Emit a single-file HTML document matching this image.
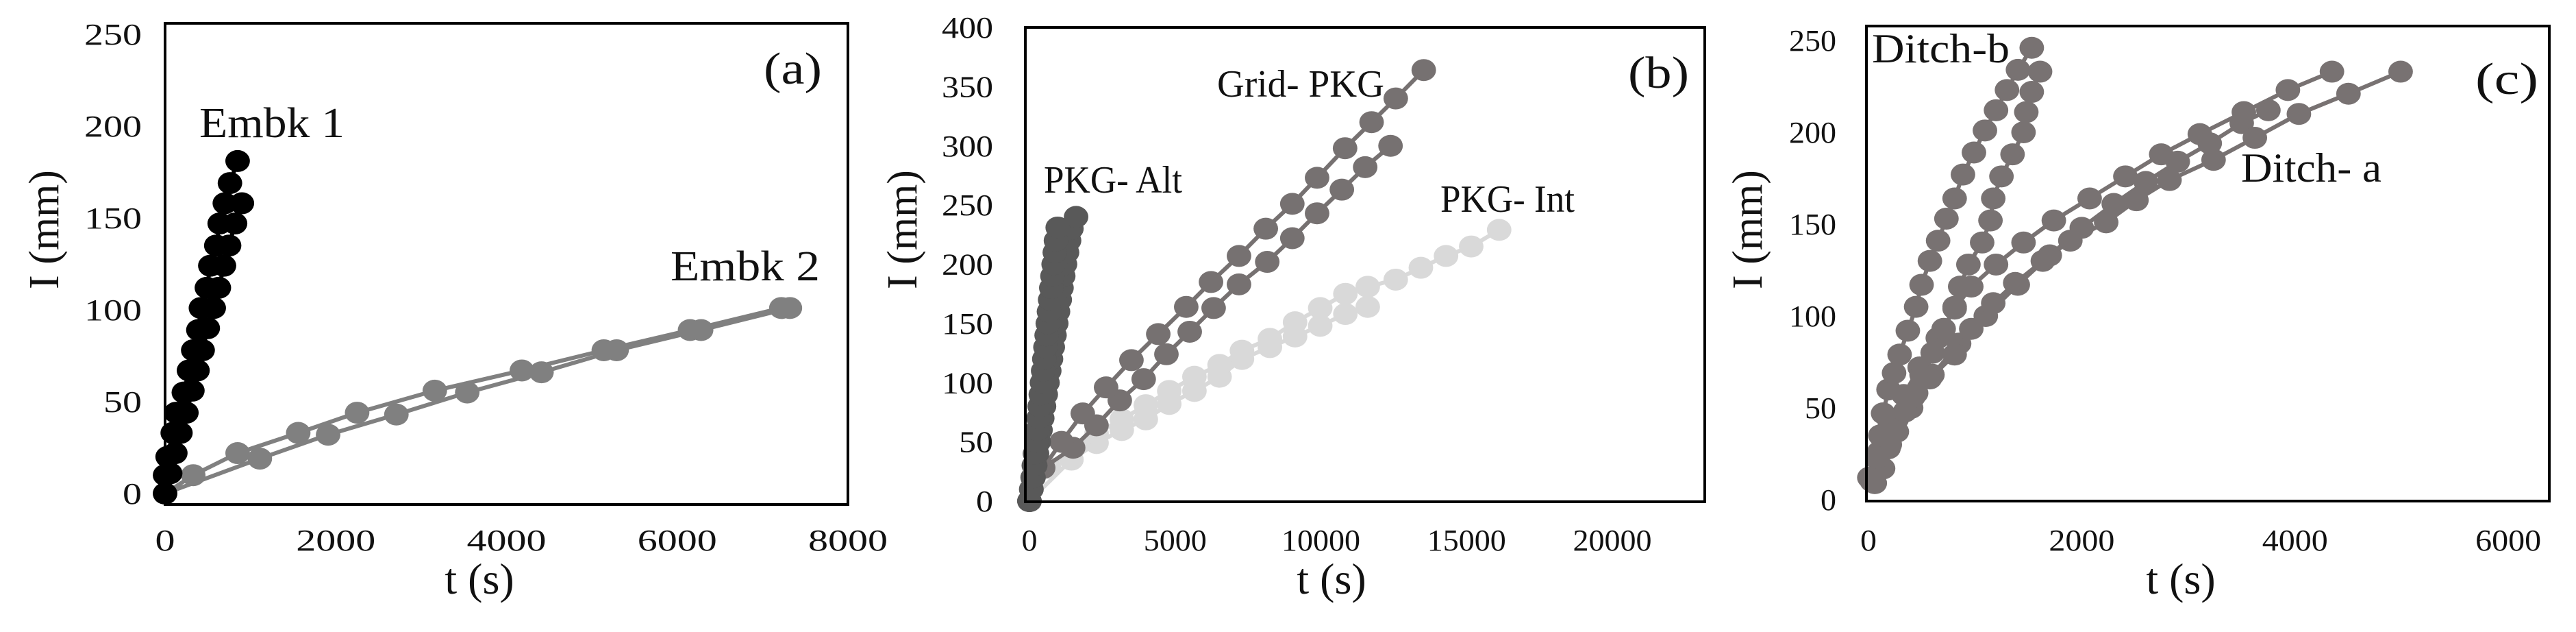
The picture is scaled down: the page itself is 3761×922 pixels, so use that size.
<!DOCTYPE html>
<html><head><meta charset="utf-8">
<style>
html,body{margin:0;padding:0;background:#fff;}
svg{display:block;}
text{font-family:"Liberation Serif",serif;fill:#111;}
</style></head>
<body>
<svg id="fig" width="3761" height="922" viewBox="0 0 3761 922" xmlns="http://www.w3.org/2000/svg"></svg>
<script>
// ---------- Panel (a) data ----------
const aTicksX = [0, 2000, 4000, 6000, 8000];
const aTicksY = [0, 50, 100, 150, 200, 250];
const embk1A_t = [0, 30, 90, 130, 220, 280, 330, 390, 420, 490, 530, 600, 640, 700, 760, 850];
const embk1A_y = [10, 20, 33, 44, 55, 67, 78, 89, 101, 112, 124, 135, 147, 158, 169, 181];
const embk1B_t = [0, 60, 120, 180, 250, 320, 380, 440, 500, 570, 630, 690, 750, 820, 900];
const embk1B_y = [0, 11, 22, 33, 44, 56, 67, 78, 90, 101, 112, 124, 135, 147, 158];
const embk2A_t = [0, 330, 850, 1560, 2250, 3160, 4180, 5140, 6150, 7220];
const embk2A_y = [0, 10, 22, 33, 44, 56, 67, 78, 89, 101];
const embk2B_t = [0, 1110, 1910, 2710, 3540, 4410, 5290, 6280, 7320];
const embk2B_y = [0, 19, 32, 43, 55, 66, 78, 89, 101];

// ---------- Panel (b) data ----------
const bTicksX = [0, 5000, 10000, 15000, 20000];
const bTicksY = [0, 50, 100, 150, 200, 250, 300, 350, 400];
const gridA_t = [0, 470, 1100, 1830, 2630, 3500, 4420, 5380, 6230, 7190, 8110, 9020, 9870, 10830, 11740, 12570, 13530];
const gridA_y = [0, 28, 50, 74, 96, 119, 141, 164, 185, 207, 230, 251, 273, 298, 320, 340, 364];
const gridB_t = [0, 470, 1500, 2300, 3100, 3920, 4700, 5500, 6320, 7190, 8160, 9020, 9870, 10720, 11520, 12390];
const gridB_y = [0, 28, 45, 64, 85, 103, 124, 143, 163, 183, 202, 222, 243, 263, 282, 300];
const intA_t = [0, 672, 1441, 2303, 3168, 3993, 4797, 5661, 6524, 7292, 8251, 9114, 9978, 10841, 11608, 12569, 13431, 14294, 15158, 16117];
const intA_y = [0, 28, 45, 57, 69, 81, 93, 105, 115, 127, 137, 151, 163, 175, 181, 187, 197, 207, 215, 229];
const intB_t = [0, 1441, 2303, 3168, 3993, 4797, 5661, 6524, 7292, 8251, 9114, 9978, 10841, 11608];
const intB_y = [0, 35, 49, 60, 69, 82, 93, 105, 120, 130, 139, 148, 158, 164];
const altA_t = [0, 60, 110, 150, 190, 230, 270, 310, 350, 390, 430, 470, 510, 550, 590, 630, 670, 710, 750, 790, 830, 870, 910, 970];
const altA_y = [0, 10, 20, 30, 40, 50, 60, 70, 80, 90, 100, 110, 120, 130, 140, 150, 160, 170, 180, 190, 200, 210, 220, 231];
const altB_t = [0, 70, 140, 200, 260, 320, 380, 440, 500, 560, 620, 680, 740, 800, 860, 920, 980, 1040, 1100, 1160, 1220, 1290, 1360, 1440, 1600];
const altB_y = [0, 10, 20, 30, 40, 50, 60, 70, 80, 90, 100, 110, 120, 130, 140, 150, 160, 170, 180, 190, 200, 210, 220, 230, 240];

// ---------- Panel (c) data ----------
const cTicksX = [0, 2000, 4000, 6000];
const cTicksY = [0, 50, 100, 150, 200, 250];
const ditchB1_t = [8, 85, 111, 137, 188, 240, 292, 369, 447, 498, 576, 653, 731, 808, 886, 989, 1092, 1196, 1299, 1402, 1531];
const ditchB1_y = [12, 23, 35, 47, 60, 69, 79, 92, 105, 117, 130, 141, 153, 164, 177, 189, 201, 212, 223, 234, 246];
const ditchB2_t = [59, 137, 188, 266, 344, 447, 498, 602, 705, 808, 860, 937, 1066, 1144, 1170, 1247, 1351, 1454, 1480, 1531, 1609];
const ditchB2_y = [9, 17, 28, 37, 48, 58, 68, 80, 93, 105, 116, 128, 140, 152, 164, 176, 188, 200, 211, 222, 233];
const ditchA1_t = [30, 100, 200, 330, 480, 650, 808, 964, 1196, 1454, 1738, 2074, 2409, 2745, 3107, 3520, 3933, 4346];
const ditchA1_y = [12, 26, 42, 57, 72, 88, 104, 116, 128, 140, 152, 164, 176, 188, 199, 211, 223, 233];
const ditchA2_t = [33, 85, 162, 266, 421, 576, 808, 964, 1170, 1376, 1635, 1893, 2229, 2513, 2823, 3236, 3623, 4036, 4501, 4990];
const ditchA2_y = [10, 22, 33, 44, 56, 66, 79, 93, 107, 118, 130, 141, 151, 163, 174, 185, 197, 210, 221, 233];
const ditchA3_t = [30, 200, 400, 600, 850, 1100, 1400, 1700, 2000, 2300, 2600, 2900, 3200, 3500, 3750];
const ditchA3_y = [12, 30, 50, 68, 85, 100, 117, 133, 148, 161, 173, 184, 194, 205, 212];

const NS = "http://www.w3.org/2000/svg";
const svg = document.getElementById('fig');
function mk(tag, attrs, parent) {
  const e = document.createElementNS(NS, tag);
  for (const k in attrs) e.setAttribute(k, attrs[k]);
  (parent || svg).appendChild(e);
  return e;
}
function txt(str, attrs, parent) { const t = mk('text', attrs, parent); t.textContent = str; return t; }

function panel(cfg) {
  const g = mk('g', {});
  
  
  const sx = v => cfg.x0 + (v - cfg.xmin) * cfg.kx;
  const sy = v => cfg.y0 - (v - cfg.ymin) * cfg.ky;
  cfg.series.forEach(s => {
    const sg = mk('g', {}, g);
    
    
    const pts = s.t.map((t, i) => sx(t).toFixed(1) + ',' + sy(s.y[i]).toFixed(1)).join(' ');
    const pl = mk('polyline', {points: pts, fill: 'none', stroke: s.color, 'stroke-width': 6, 'stroke-linejoin': 'round'}, sg);
    
    
    s.t.forEach((t, i) => {
      const c = mk('ellipse', {cx: sx(t), cy: sy(s.y[i]), rx: cfg.r * 1.12, ry: cfg.r, fill: s.color}, sg);
      
      
    });
  });
  const fr = mk('rect', {x: cfg.bx, y: cfg.by, width: cfg.bw, height: cfg.bh, fill: 'none', stroke: '#000', 'stroke-width': 4}, g);
  
  
  cfg.ticksY.forEach(v => {
    const s = String(v);
    const t = txt(s, {x: cfg.yLabRight, y: sy(v) + 15, 'text-anchor': 'end', 'font-size': 44, textLength: s.length * cfg.ycw, lengthAdjust: 'spacingAndGlyphs'}, g);
    
    
  });
  cfg.ticksX.forEach(v => {
    const s = String(v);
    const t = txt(s, {x: sx(v) - s.length * cfg.xcw / 2, y: 803, 'font-size': 44, textLength: s.length * cfg.xcw, lengthAdjust: 'spacingAndGlyphs'}, g);
    
    
  });
  const xt = txt('t (s)', {x: cfg.xTitleX, y: 866, 'text-anchor': 'middle', 'font-size': 64}, g);
  
  
  const yt = txt('I (mm)', {x: 0, y: 0, 'text-anchor': 'middle', 'font-size': 62, transform: 'translate(' + cfg.yTitleX + ',335) rotate(-90)'}, g);
  
  
  cfg.labels.forEach(l => {
    const t = txt(l.s, {x: l.x, y: l.y, 'font-size': l.fs, textLength: l.w, lengthAdjust: 'spacingAndGlyphs'}, g);
    
    
  });
}

panel({
  name: 'panel-a', x0: 241, xmin: 0, kx: 997 / 8000, y0: 720, ymin: 0, ky: 2.68, r: 16,
  bx: 241, by: 34, bw: 997, bh: 702, ticksX: aTicksX, ticksY: aTicksY, ycw: 28, xcw: 29,
  yLabRight: 207, xTitleX: 700, yTitleX: 85,
  series: [
    {name: 'embk2-series-a', t: embk2A_t, y: embk2A_y, color: '#808080'},
    {name: 'embk2-series-b', t: embk2B_t, y: embk2B_y, color: '#808080'},
    {name: 'embk1-series-b', t: embk1B_t, y: embk1B_y, color: '#000000'},
    {name: 'embk1-series-a', t: embk1A_t, y: embk1A_y, color: '#000000'}
  ],
  labels: [
    {s: 'Embk 1', x: 291, y: 200, fs: 62, w: 212, name: 'embk1-label'},
    {s: 'Embk 2', x: 979, y: 409, fs: 62, w: 218, name: 'embk2-label'},
    {s: '(a)', x: 1115, y: 122, fs: 66, w: 85, name: 'panel-a-tag'}
  ]
});

panel({
  name: 'panel-b', x0: 1503, xmin: 0, kx: 0.04255, y0: 731, ymin: 0, ky: 1.7275, r: 16,
  bx: 1497, by: 40, bw: 992, bh: 692, ticksX: bTicksX, ticksY: bTicksY, ycw: 25, xcw: 23,
  yLabRight: 1450, xTitleX: 1944, yTitleX: 1338,
  series: [
    {name: 'pkg-int-series-b', t: intB_t, y: intB_y, color: '#d9d9d9'},
    {name: 'pkg-int-series-a', t: intA_t, y: intA_y, color: '#d9d9d9'},
    {name: 'grid-pkg-series-b', t: gridB_t, y: gridB_y, color: '#767171'},
    {name: 'grid-pkg-series-a', t: gridA_t, y: gridA_y, color: '#767171'},
    {name: 'pkg-alt-series-b', t: altB_t, y: altB_y, color: '#595959'},
    {name: 'pkg-alt-series-a', t: altA_t, y: altA_y, color: '#595959'}
  ],
  labels: [
    {s: 'Grid- PKG', x: 1777, y: 141, fs: 56, w: 244, name: 'grid-pkg-label'},
    {s: 'PKG- Alt', x: 1524, y: 281, fs: 56, w: 202, name: 'pkg-alt-label'},
    {s: 'PKG- Int', x: 2103, y: 309, fs: 56, w: 196, name: 'pkg-int-label'},
    {s: '(b)', x: 2377, y: 128, fs: 66, w: 89, name: 'panel-b-tag'}
  ]
});

panel({
  name: 'panel-c', x0: 2728, xmin: 0, kx: 0.1557, y0: 729, ymin: 0, ky: 2.68, r: 16,
  bx: 2725, by: 38, bw: 997, bh: 693, ticksX: cTicksX, ticksY: cTicksY, ycw: 23, xcw: 24,
  yLabRight: 2681, xTitleX: 3184, yTitleX: 2572,
  series: [
    {name: 'ditch-a-series-3', t: ditchA3_t, y: ditchA3_y, color: '#787272'},
    {name: 'ditch-a-series-2', t: ditchA2_t, y: ditchA2_y, color: '#787272'},
    {name: 'ditch-a-series-1', t: ditchA1_t, y: ditchA1_y, color: '#787272'},
    {name: 'ditch-b-series-2', t: ditchB2_t, y: ditchB2_y, color: '#787272'},
    {name: 'ditch-b-series-1', t: ditchB1_t, y: ditchB1_y, color: '#787272'}
  ],
  labels: [
    {s: 'Ditch-b', x: 2733, y: 91, fs: 60, w: 201, name: 'ditch-b-label'},
    {s: 'Ditch- a', x: 3272, y: 265, fs: 60, w: 205, name: 'ditch-a-label'},
    {s: '(c)', x: 3614, y: 137, fs: 66, w: 92, name: 'panel-c-tag'}
  ]
});
</script>
</body></html>
